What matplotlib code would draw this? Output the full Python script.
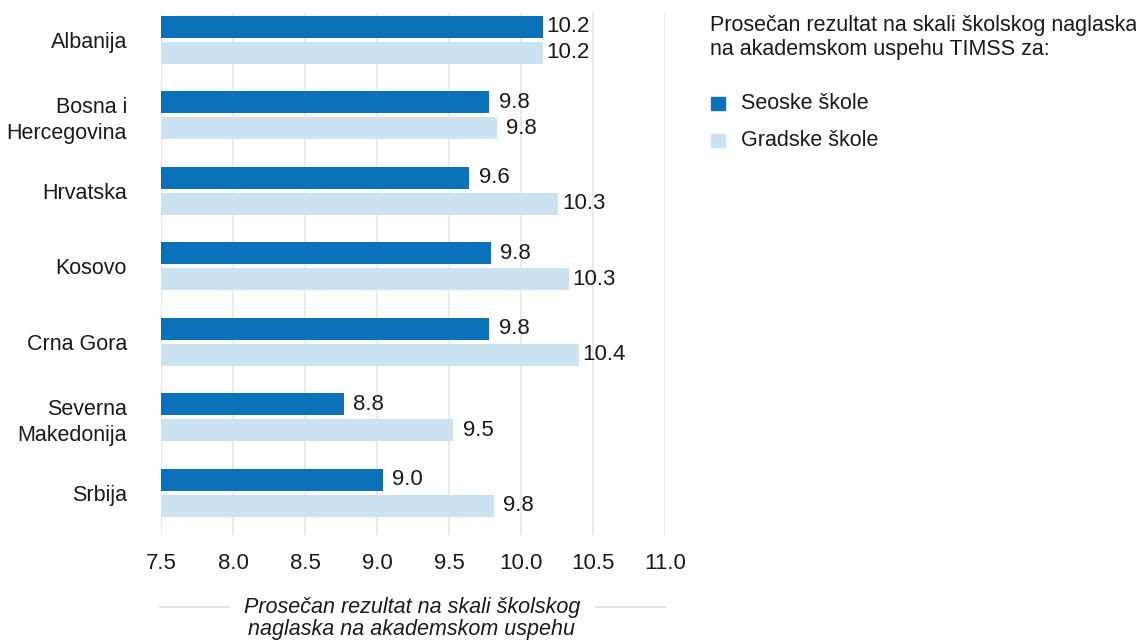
import numpy as np
import matplotlib.pyplot as plt
from matplotlib.lines import Line2D

plt.rcParams['font.family'] = ['Liberation Sans', 'DejaVu Sans']

countries = ['Albanija', 'Bosna i\nHercegovina', 'Hrvatska', 'Kosovo',
             'Crna Gora', 'Severna\nMakedonija', 'Srbija']
rural = [10.15, 9.78, 9.64, 9.79, 9.78, 8.77, 9.04]
urban = [10.15, 9.83, 10.26, 10.33, 10.4, 9.53, 9.81]
series_names = ['Seoske škole', 'Gradske škole']
xticks = [7.5, 8.0, 8.5, 9.0, 9.5, 10.0, 10.5, 11.0]
legend_title = ['Prosečan rezultat na skali školskog naglaska',
                'na akademskom uspehu TIMSS za:']
axis_title = ['Prosečan rezultat na skali školskog',
              'naglaska na akademskom uspehu']

dark = '#0b71b9'
light = '#cbe3f1'
text_col = '#1a1a1a'
fs = 15.5
fs_num = 16

W, H = 1136, 641
fig = plt.figure(figsize=(W / 100, H / 100), dpi=100)
# axes box in pixel coords: left 161, right 665, top 12, bottom 535
ax = fig.add_axes([161 / W, 1 - 535 / H, (665 - 161) / W, (535 - 12) / H])

y = np.arange(len(countries))
off = 0.172
h = 0.29
ax.barh(y - off, [v - 7.5 for v in rural], left=7.5, height=h, color=dark, zorder=2)
ax.barh(y + off, [v - 7.5 for v in urban], left=7.5, height=h, color=light, zorder=2)

for vals, dy in [(rural, -off), (urban, off)]:
    for i, v in enumerate(vals):
        ax.annotate(f'{v:.1f}', (v, y[i] + dy), xytext=(18, 0), textcoords='offset points',
                    va='center', ha='center', fontsize=fs_num, color=text_col)

ax.set_xlim(7.5, 11.0)
ax.set_ylim(6.56, -0.37)
ax.set_xticks(xticks)
ax.set_xticklabels([f'{t:.1f}' for t in xticks], fontsize=fs_num, color=text_col)
ax.set_yticks(y)
ax.set_yticklabels(countries, fontsize=fs, color=text_col, linespacing=1.32)
ax.tick_params(axis='y', length=0, pad=24.5)
ax.tick_params(axis='x', length=0, pad=13)
ax.grid(axis='x', color='#e6e6e6', linewidth=1.2, zorder=0)
for s in ax.spines.values():
    s.set_visible(False)

# x axis title with flanking rules; the second line runs off the bottom edge
for k, line in enumerate(axis_title):
    fig.text(412 / W, 1 - (607 + 23 * k) / H, line, ha='center', va='center',
             fontsize=fs, style='italic', color=text_col)
for x0, x1 in [(160, 229), (596, 665)]:
    fig.add_artist(Line2D([x0 / W, x1 / W], [1 - 607 / H, 1 - 607 / H],
                          color='#dddddd', linewidth=1.2, transform=fig.transFigure))

# legend block
for k, line in enumerate(legend_title):
    fig.text(710 / W, 1 - (25 + 25 * k) / H, line, ha='left', va='center',
             fontsize=fs, color=text_col)
for k, (name, col) in enumerate(zip(series_names, [dark, light])):
    yy = 1 - (103.5 + 36.5 * k) / H
    fig.patches.append(plt.Rectangle((711 / W, yy - 6.5 / H), 14 / W, 13 / H,
                                     color=col, transform=fig.transFigure))
    fig.text(741 / W, yy, name, ha='left', va='center', fontsize=fs, color=text_col)

fig.savefig('out.png', dpi=100)
